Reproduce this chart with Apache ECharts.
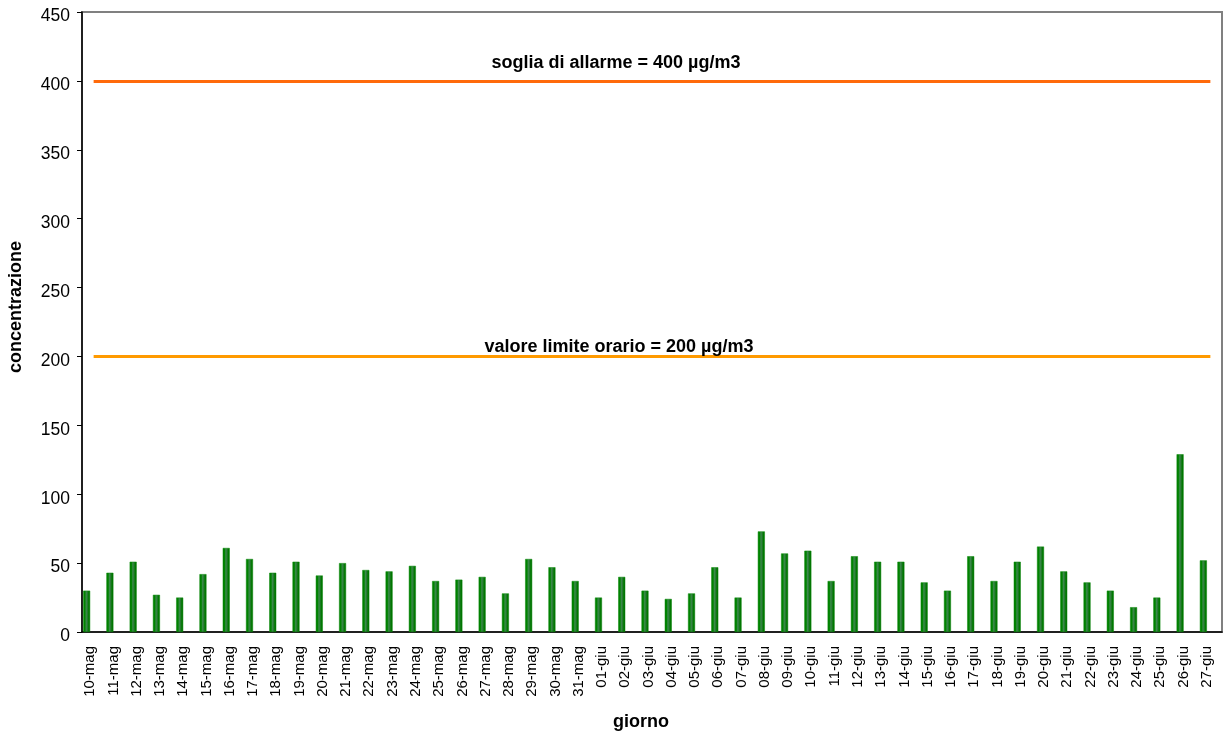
<!DOCTYPE html>
<html>
<head>
<meta charset="utf-8">
<script src="https://cdn.jsdelivr.net/npm/echarts@6/dist/echarts.min.js"></script>
<style>html,body{margin:0;padding:0;background:#fff}#c{width:1228px;height:733px}</style>
</head>
<body>
<div id="c"></div>
<script>
const categories = ["10-mag","11-mag","12-mag","13-mag","14-mag","15-mag","16-mag","17-mag","18-mag","19-mag","20-mag","21-mag","22-mag","23-mag","24-mag","25-mag","26-mag","27-mag","28-mag","29-mag","30-mag","31-mag","01-giu","02-giu","03-giu","04-giu","05-giu","06-giu","07-giu","08-giu","09-giu","10-giu","11-giu","12-giu","13-giu","14-giu","15-giu","16-giu","17-giu","18-giu","19-giu","20-giu","21-giu","22-giu","23-giu","24-giu","25-giu","26-giu","27-giu"];
const values = [30,43,51,27,25,42,61,53,43,51,41,50,45,44,48,37,38,40,28,53,47,37,25,40,30,24,28,47,25,73,57,59,37,55,51,51,36,30,55,37,51,62,44,36,30,18,25,129,52];
const alarmThreshold = 400;
const hourlyLimit = 200;
const alarmLabel = "soglia di allarme = 400 µg/m3";
const limitLabel = "valore limite orario = 200 µg/m3";
const yTicks = {min: 0, max: 450, interval: 50};

const FONT = "'Liberation Sans', Arial, sans-serif";
const chart = echarts.init(document.getElementById('c'));
const last = categories.length - 1;
chart.setOption({
  animation: false,
  backgroundColor: '#fff',
  textStyle: {fontFamily: FONT},
  grid: {left: 82, right: 6, top: 12, bottom: 101, show: true, borderColor: '#808080', borderWidth: 2, outerBoundsMode: 'none', containLabel: false},
  xAxis: {
    type: 'category',
    data: categories,
    name: 'giorno',
    nameLocation: 'middle',
    nameGap: 81,
    nameTextStyle: {fontFamily: FONT, fontSize: 18, fontWeight: 'bold', color: '#000', padding: [0, 22, 0, 0]},
    axisLine: {lineStyle: {color: '#000', width: 1.5}},
    axisTick: {alignWithLabel: false, length: 5, lineStyle: {color: '#000'}},
    axisLabel: {rotate: 90, interval: 0, color: '#000', margin: 14, fontFamily: FONT, fontSize: 15,
      formatter: '{t|{value}}',
      rich: {t: {fontFamily: FONT, fontSize: 15, fontWeight: 'normal', color: '#000', padding: [0, 0, 7, 0]}}},
    splitLine: {show: false}
  },
  yAxis: {
    type: 'value',
    min: yTicks.min, max: yTicks.max, interval: yTicks.interval,
    name: 'concentrazione',
    nameLocation: 'middle',
    nameGap: 57,
    nameTextStyle: {fontFamily: FONT, fontSize: 18, fontWeight: 'bold', color: '#000', padding: [0, 0, 0, 30]},
    axisLine: {show: true, lineStyle: {color: '#000', width: 1.5}},
    axisTick: {show: true, length: 5, lineStyle: {color: '#000'}},
    axisLabel: {color: '#000', margin: 12, fontFamily: FONT, fontSize: 17.5,
      formatter: '{t|{value}}',
      rich: {t: {fontFamily: FONT, fontSize: 17.5, color: '#000', padding: [9, 0, 0, 0]}}},
    splitLine: {show: false}
  },
  series: [
    {
      type: 'bar',
      name: 'concentrazione',
      data: values,
      barWidth: 7,
      barGap: '100%',
      itemStyle: {
        color: new echarts.graphic.LinearGradient(0, 0, 1, 0, [
          {offset: 0, color: '#007a00'},
          {offset: 0.25, color: '#008400'},
          {offset: 0.45, color: '#3c8a4c'},
          {offset: 0.6, color: '#2a7a35'},
          {offset: 0.8, color: '#007a00'},
          {offset: 1, color: '#006400'}
        ]),
        borderColor: '#0a8a0a',
        borderWidth: 0.5
      }
    },
    {type: 'bar', name: 'spacer', data: [], barWidth: 7, silent: true},
    {
      type: 'line',
      name: 'soglie',
      data: [],
      silent: true,
      markLine: {
        silent: true,
        symbol: 'none',
        animation: false,
        data: [
          [{coord: [0, alarmThreshold], lineStyle: {color: '#ff6a0a', width: 3, type: 'solid'},
            label: {show: true, position: 'insideMiddleTop', formatter: alarmLabel, fontFamily: FONT, fontSize: 18, fontWeight: 'bold', color: '#000', distance: 9, padding: [0, 72, 0, 0]}},
           {coord: [last, alarmThreshold]}],
          [{coord: [0, hourlyLimit], lineStyle: {color: '#ff9a00', width: 3, type: 'solid'},
            label: {show: true, position: 'insideMiddleTop', formatter: limitLabel, fontFamily: FONT, fontSize: 18, fontWeight: 'bold', color: '#000', distance: 0, padding: [0, 66, 0, 0]}},
           {coord: [last, hourlyLimit]}]
        ]
      }
    }
  ]
});
</script>
</body>
</html>
